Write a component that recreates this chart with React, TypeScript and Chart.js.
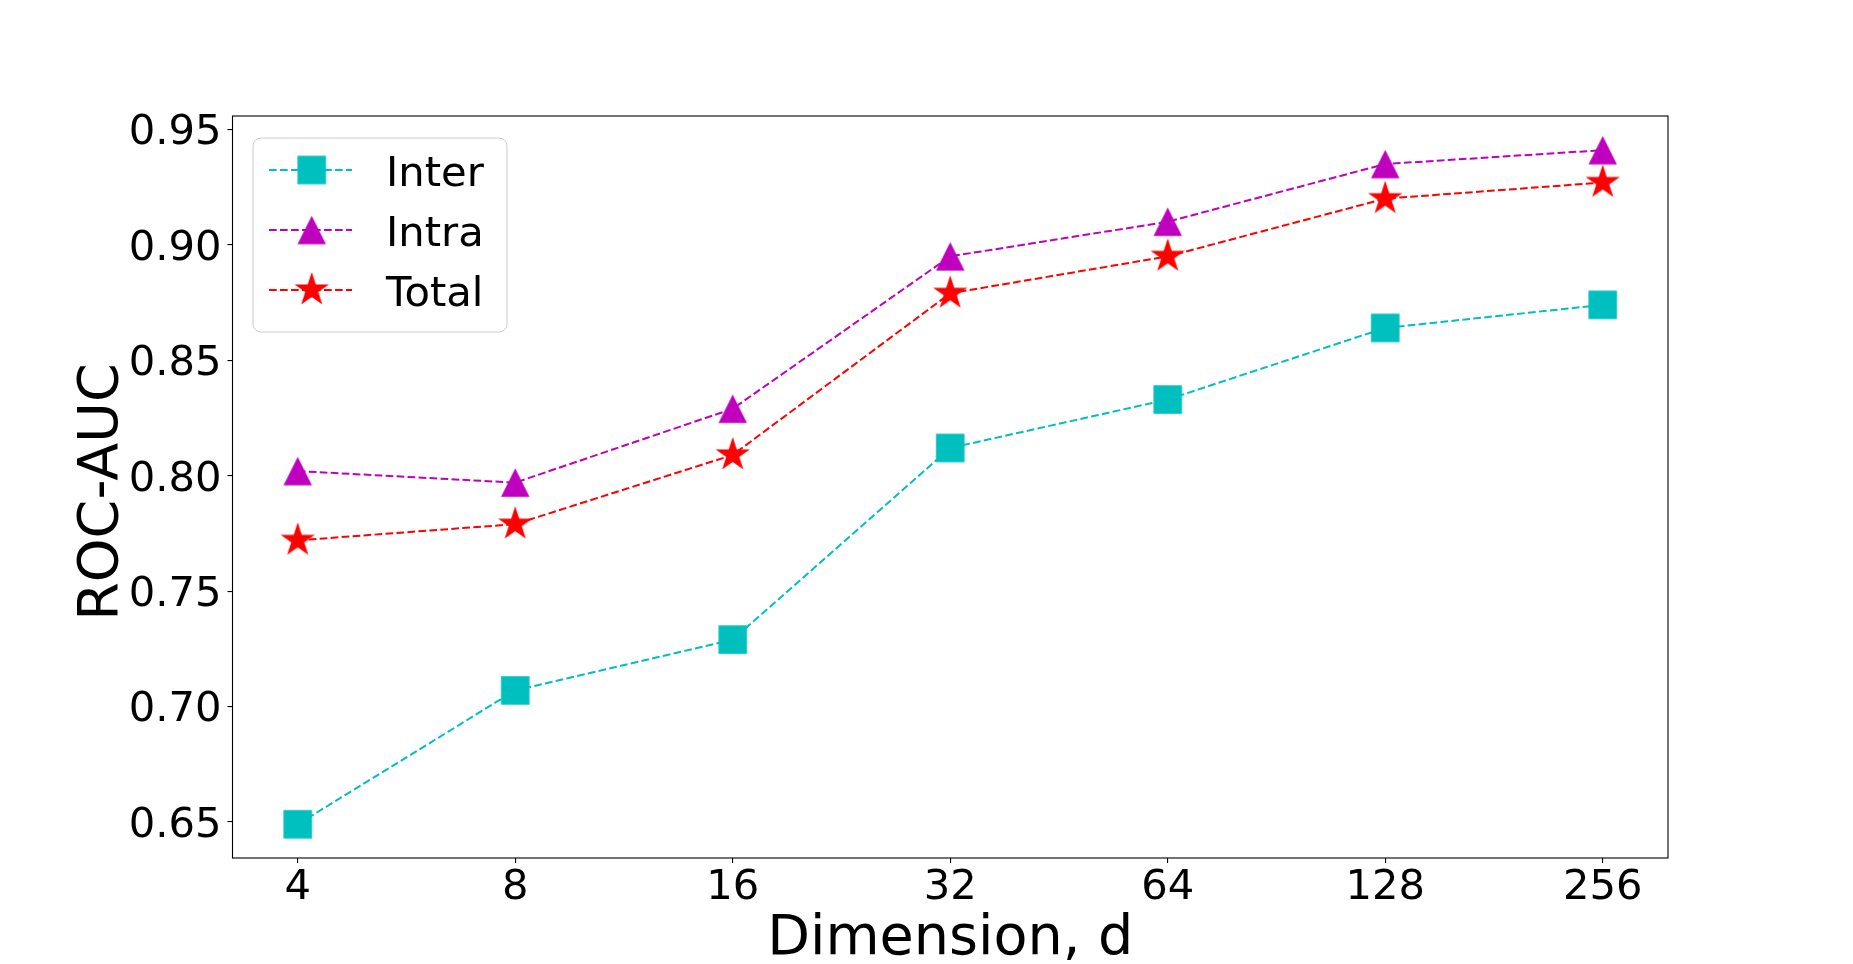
import React, { useEffect, useRef } from 'react';
import { Chart, registerables } from 'chart.js';

Chart.register(...registerables);

// ---- data ----
const dimensions = ['4', '8', '16', '32', '64', '128', '256'];
const interAUC = [0.649, 0.707, 0.729, 0.812, 0.833, 0.864, 0.874];
const intraAUC = [0.802, 0.797, 0.829, 0.895, 0.910, 0.935, 0.941];
const totalAUC = [0.772, 0.779, 0.809, 0.879, 0.895, 0.920, 0.927];
const seriesNames = ['Inter', 'Intra', 'Total'];
const yTickValues = [0.65, 0.70, 0.75, 0.80, 0.85, 0.90, 0.95];
const xAxisTitle = 'Dimension, d';
const yAxisTitle = 'ROC-AUC';

const FONT = '"DejaVu Sans", Verdana, sans-serif';
const CYAN = '#00bfbf';
const MAGENTA = '#bf00bf';
const RED = '#ff0000';

function makeSquare(color: string, side: number) {
  const c = document.createElement('canvas');
  const s = Math.ceil(side) + 2;
  c.width = s;
  c.height = s;
  const ctx = c.getContext('2d')!;
  ctx.fillStyle = color;
  const o = (s - side) / 2;
  ctx.fillRect(o, o, side, side);
  return c;
}

function makeTriangle(color: string, size: number) {
  const c = document.createElement('canvas');
  const s = Math.ceil(size) + 2;
  c.width = s;
  c.height = s;
  const ctx = c.getContext('2d')!;
  const o = (s - size) / 2;
  ctx.fillStyle = color;
  ctx.beginPath();
  ctx.moveTo(s / 2, o);
  ctx.lineTo(o + size, o + size);
  ctx.lineTo(o, o + size);
  ctx.closePath();
  ctx.fill();
  return c;
}

function makeStar(color: string, R: number) {
  const c = document.createElement('canvas');
  const s = Math.ceil(2 * R) + 2;
  c.width = s;
  c.height = s;
  const ctx = c.getContext('2d')!;
  const cx = s / 2;
  const cy = s / 2;
  const r = R * 0.381966;
  ctx.fillStyle = color;
  ctx.beginPath();
  for (let i = 0; i < 10; i++) {
    const a = -Math.PI / 2 + (i * Math.PI) / 5;
    const rad = i % 2 === 0 ? R : r;
    const px = cx + rad * Math.cos(a);
    const py = cy + rad * Math.sin(a);
    if (i === 0) ctx.moveTo(px, py);
    else ctx.lineTo(px, py);
  }
  ctx.closePath();
  ctx.fill();
  return c;
}

const framePlusLegend = {
  id: 'framePlusLegend',
  afterDatasetsDraw(chart: any) {
    const { ctx, chartArea } = chart;
    ctx.save();
    // axes frame
    ctx.strokeStyle = '#000';
    ctx.lineWidth = 1.1;
    ctx.strokeRect(chartArea.left, chartArea.top, chartArea.right - chartArea.left, chartArea.bottom - chartArea.top);

    // y axis title (rotated), centred on the axes
    ctx.save();
    ctx.translate(117, (chartArea.top + chartArea.bottom) / 2 + 5);
    ctx.rotate(-Math.PI / 2);
    ctx.fillStyle = '#000';
    ctx.font = `55.6px ${FONT}`;
    ctx.textAlign = 'center';
    ctx.textBaseline = 'alphabetic';
    ctx.fillText(yAxisTitle, 0, 0);
    ctx.restore();

    // legend
    const x0 = chartArea.left + 20.5;
    const y0 = chartArea.top + 22;
    const w = 254;
    const h = 194;
    const rr = 8;
    ctx.beginPath();
    ctx.moveTo(x0 + rr, y0);
    ctx.lineTo(x0 + w - rr, y0);
    ctx.arcTo(x0 + w, y0, x0 + w, y0 + rr, rr);
    ctx.lineTo(x0 + w, y0 + h - rr);
    ctx.arcTo(x0 + w, y0 + h, x0 + w - rr, y0 + h, rr);
    ctx.lineTo(x0 + rr, y0 + h);
    ctx.arcTo(x0, y0 + h, x0, y0 + h - rr, rr);
    ctx.lineTo(x0, y0 + rr);
    ctx.arcTo(x0, y0, x0 + rr, y0, rr);
    ctx.closePath();
    ctx.fillStyle = 'rgba(255,255,255,0.8)';
    ctx.fill();
    ctx.strokeStyle = '#cccccc';
    ctx.lineWidth = 1;
    ctx.stroke();

    const dsList = chart.data.datasets;
    for (let i = 0; i < dsList.length; i++) {
      const ds = dsList[i];
      const cy = y0 + 32 + i * 60;
      ctx.save();
      ctx.strokeStyle = ds.borderColor;
      ctx.lineWidth = ds.borderWidth;
      ctx.setLineDash(ds.borderDash);
      ctx.beginPath();
      ctx.moveTo(x0 + 16, cy);
      ctx.lineTo(x0 + 99, cy);
      ctx.stroke();
      ctx.restore();
      const img = ds.pointStyle as HTMLCanvasElement;
      ctx.drawImage(img, x0 + 58.7 - img.width / 2, cy - img.height / 2);
      ctx.fillStyle = '#000';
      ctx.font = `41.7px ${FONT}`;
      ctx.textBaseline = 'alphabetic';
      ctx.textAlign = 'left';
      ctx.fillText(ds.label, x0 + 133, cy + 15.5);
    }
    ctx.restore();
  },
};

export default function App() {
  const ref = useRef<HTMLCanvasElement | null>(null);

  useEffect(() => {
    if (!ref.current) return;
    const sq = makeSquare(CYAN, 28.5);
    const tri = makeTriangle(MAGENTA, 28.5);
    const star = makeStar(RED, 18);

    const toPts = (arr: number[]) => arr.map((v, i) => ({ x: i, y: v }));

    const common = {
      borderWidth: 2,
      borderDash: [7.7, 3.3],
      fill: false,
      tension: 0,
      pointRadius: 14,
      pointHoverRadius: 14,
      clip: false as any,
    };

    const chart = new Chart(ref.current, {
      type: 'line',
      data: {
        datasets: [
          { ...common, label: seriesNames[0], data: toPts(interAUC), borderColor: CYAN, backgroundColor: CYAN, pointStyle: sq as any, order: 2 },
          { ...common, label: seriesNames[1], data: toPts(intraAUC), borderColor: MAGENTA, backgroundColor: MAGENTA, pointStyle: tri as any, order: 1 },
          { ...common, label: seriesNames[2], data: toPts(totalAUC), borderColor: RED, backgroundColor: RED, pointStyle: star as any, order: 0 },
        ],
      },
      options: {
        animation: false,
        responsive: false,
        devicePixelRatio: 1,
        events: [],
        layout: { padding: { top: 116, right: 185, left: 0, bottom: 0 } },
        plugins: {
          legend: { display: false },
          tooltip: { enabled: false },
          title: { display: false },
        },
        scales: {
          x: {
            type: 'linear',
            min: -0.3,
            max: 6.3,
            afterFit: (s: any) => {
              s.height = 106;
            },
            afterBuildTicks: (s: any) => {
              s.ticks = dimensions.map((_, i) => ({ value: i }));
            },
            ticks: {
              autoSkip: false,
              maxRotation: 0,
              padding: 4.5,
              color: '#000',
              font: { family: FONT, size: 41.7, lineHeight: 1 },
              callback: (v: any) => dimensions[Math.round(Number(v))] ?? '',
            },
            grid: { display: true, drawOnChartArea: false, drawTicks: true, tickLength: 5, color: '#000', lineWidth: 1.1 },
            border: { display: false },
            title: {
              display: true,
              text: xAxisTitle,
              color: '#000',
              font: { family: FONT, size: 55.6, lineHeight: 0.85 },
              padding: { top: 0, bottom: 0.5 },
            },
          },
          y: {
            type: 'linear',
            min: 0.6344,
            max: 0.9558,
            afterFit: (s: any) => {
              s.width = 232.5;
            },
            afterBuildTicks: (s: any) => {
              s.ticks = yTickValues.map((v) => ({ value: v }));
            },
            ticks: {
              padding: 6,
              labelOffset: 4,
              color: '#000',
              font: { family: FONT, size: 41.7, lineHeight: 1 },
              callback: (v: any) => Number(v).toFixed(2),
            },
            grid: { display: true, drawOnChartArea: false, drawTicks: true, tickLength: 5, color: '#000', lineWidth: 1.1 },
            border: { display: false },
            title: { display: false },
          },
        },
      },
      plugins: [framePlusLegend],
    });
    return () => chart.destroy();
  }, []);

  return (
    <div style={{ position: 'fixed', left: 0, top: 0, width: 1853, height: 964, background: '#fff' }}>
      <canvas ref={ref} width={1853} height={964} style={{ display: 'block', width: 1853, height: 964 }} />
    </div>
  );
}
